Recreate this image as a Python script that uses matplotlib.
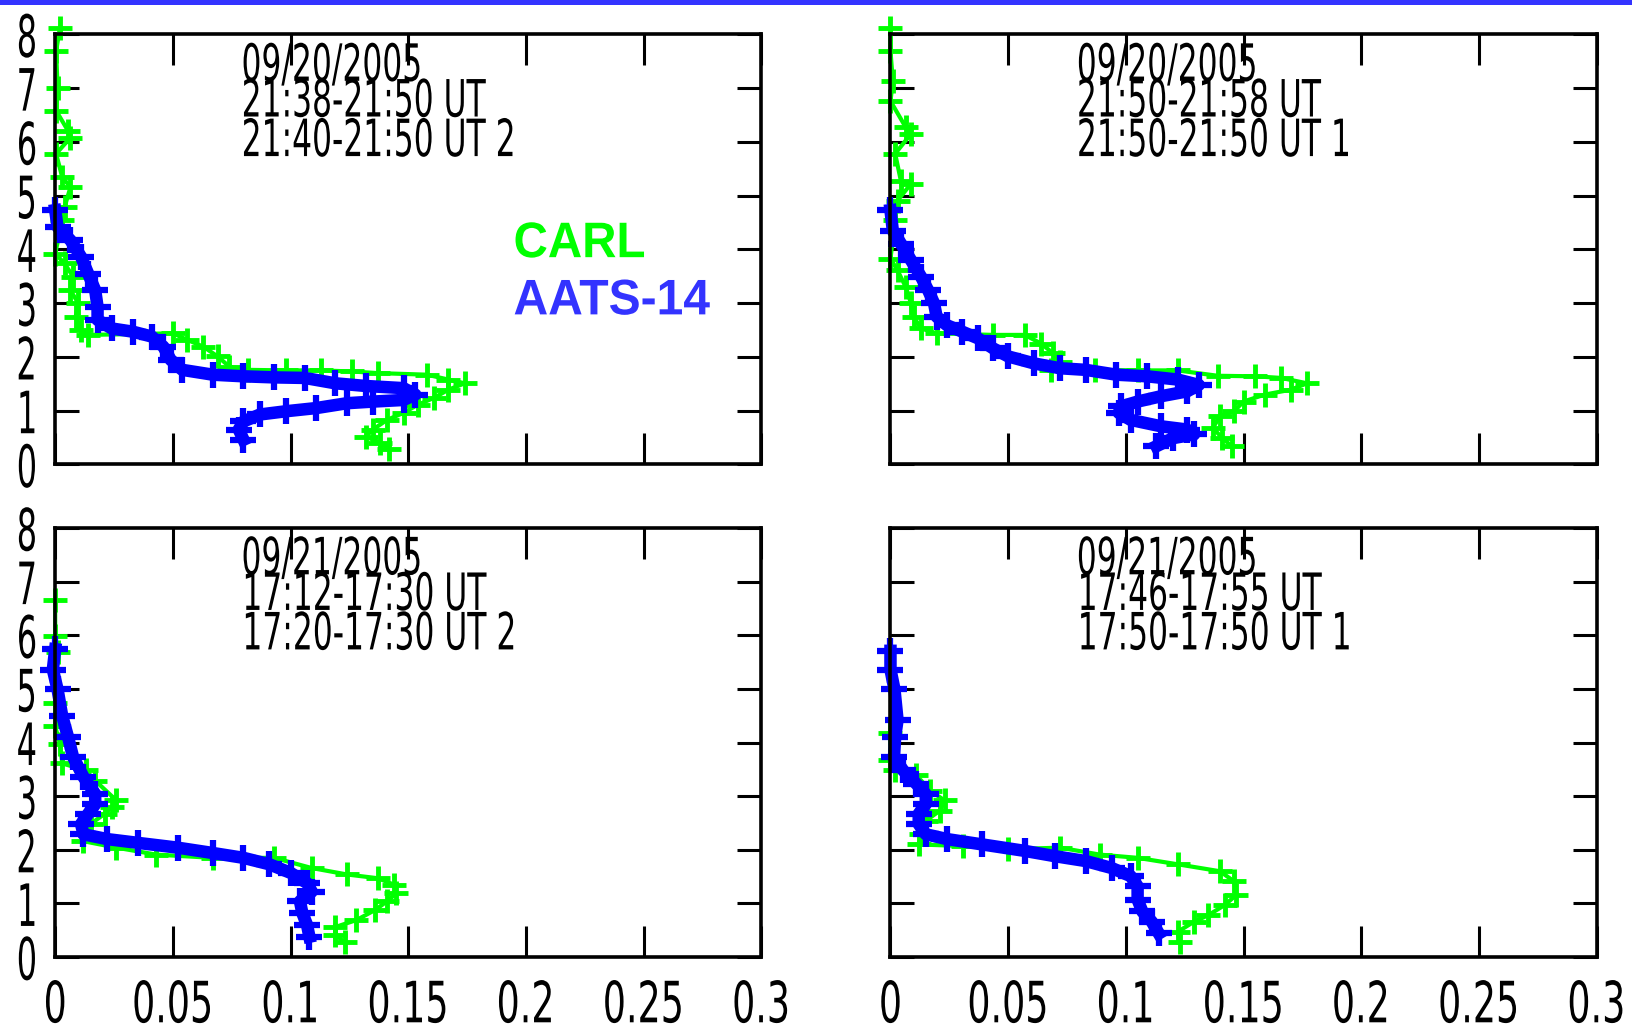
import numpy as np
import matplotlib
matplotlib.use('Agg')
import matplotlib.pyplot as plt
from matplotlib.patches import Rectangle
from matplotlib.patheffects import AbstractPathEffect
from matplotlib.transforms import Affine2D

plt.rcParams['font.family'] = ['DejaVu Sans']

GREEN = '#00ff00'
BLUE = '#0000ff'
TEXT_BLUE = '#3333ff'


class Narrow(AbstractPathEffect):
    """Squeeze glyphs horizontally to get a condensed-looking face."""

    def __init__(self, sx, anchor='center'):
        super().__init__()
        self.sx = sx
        self.anchor = anchor

    def draw_path(self, renderer, gc, tpath, affine, rgbFace=None):
        ext = tpath.get_extents()
        if self.anchor == 'left':
            cx = ext.x0
        elif self.anchor == 'right':
            cx = ext.x1
        else:
            cx = 0.5 * (ext.x0 + ext.x1)
        squeeze = Affine2D().translate(-cx, 0).scale(self.sx, 1).translate(cx, 0)
        renderer.draw_path(gc, tpath, squeeze + affine, rgbFace)


# extinction (1/km) vs altitude (km) for each overflight
# 09/20/2005, 21:38-21:50 UT
carl1_x = [0.002, 0.0004, 0.001, 0.0004, 0.0054, 0.0065, 0.0004, 0.003, 0.0065, 0.004,
           0.003, 0.000, 0.004, 0.0076, 0.0065, 0.0098, 0.0087, 0.011, 0.014, 0.050,
           0.056, 0.063, 0.069, 0.074, 0.082, 0.098, 0.113, 0.126, 0.137, 0.158,
           0.167, 0.174, 0.167, 0.161, 0.154, 0.148, 0.141, 0.135, 0.132, 0.138, 0.142]
carl1_y = [8.12, 7.69, 7.01, 6.58, 6.21, 6.08, 5.78, 5.34, 5.16, 4.79,
           4.54, 3.92, 3.74, 3.49, 3.24, 3.00, 2.75, 2.50, 2.41, 2.44,
           2.32, 2.19, 2.01, 1.82, 1.76, 1.75, 1.75, 1.73, 1.70, 1.67,
           1.58, 1.51, 1.39, 1.24, 1.11, 0.96, 0.83, 0.65, 0.52, 0.40, 0.28]
aats1_x = [0.000, 0.001, 0.0065, 0.011, 0.014, 0.017, 0.018, 0.018, 0.024, 0.033,
           0.041, 0.046, 0.049, 0.054, 0.067, 0.080, 0.093, 0.106, 0.119, 0.132,
           0.148, 0.153, 0.148, 0.135, 0.124, 0.111, 0.098, 0.087, 0.080, 0.078, 0.080]
aats1_y = [4.73, 4.42, 4.17, 3.86, 3.55, 3.24, 2.93, 2.69, 2.53, 2.47,
           2.38, 2.19, 1.95, 1.76, 1.67, 1.64, 1.62, 1.61, 1.51, 1.46,
           1.42, 1.30, 1.20, 1.17, 1.14, 1.05, 0.99, 0.93, 0.80, 0.65, 0.46]

# 09/20/2005, 21:50-21:58 UT
carl2_x = [0.000, 0.000, 0.001, 0.000, 0.0065, 0.0087, 0.002, 0.0044, 0.0087, 0.003,
           0.002, 0.000, 0.003, 0.0065, 0.0087, 0.0098, 0.013, 0.0196, 0.0436, 0.057,
           0.064, 0.069, 0.072, 0.068, 0.087, 0.105, 0.122, 0.139, 0.155, 0.166,
           0.177, 0.170, 0.159, 0.150, 0.146, 0.140, 0.137, 0.141, 0.145]
carl2_y = [8.12, 7.69, 7.13, 6.76, 6.27, 6.15, 5.78, 5.28, 5.22, 4.91,
           4.54, 3.83, 3.61, 3.30, 3.00, 2.75, 2.53, 2.44, 2.41, 2.41,
           2.25, 2.07, 1.91, 1.76, 1.76, 1.75, 1.75, 1.65, 1.64, 1.61,
           1.51, 1.39, 1.30, 1.17, 0.99, 0.90, 0.68, 0.49, 0.34]
aats2_x = [0.000, 0.001, 0.0044, 0.0087, 0.013, 0.016, 0.0185, 0.0196, 0.024, 0.0305,
           0.037, 0.0436, 0.050, 0.061, 0.072, 0.083, 0.096, 0.109, 0.122, 0.131,
           0.126, 0.115, 0.105, 0.098, 0.097, 0.102, 0.115, 0.126, 0.129, 0.120, 0.113]
aats2_y = [4.73, 4.35, 4.11, 3.80, 3.49, 3.24, 3.00, 2.75, 2.59, 2.47,
           2.35, 2.16, 2.01, 1.88, 1.79, 1.76, 1.67, 1.64, 1.58, 1.48,
           1.36, 1.27, 1.17, 1.08, 0.96, 0.83, 0.71, 0.65, 0.56, 0.49, 0.34]

# 09/21/2005, 17:12-17:30 UT
carl3_x = [0.000, 0.000, 0.001, 0.000, 0.000, 0.002, 0.003, 0.013, 0.017, 0.026,
           0.024, 0.021, 0.015, 0.012, 0.026, 0.043, 0.067, 0.093, 0.109, 0.124,
           0.137, 0.144, 0.145, 0.141, 0.136, 0.128, 0.119, 0.119, 0.123]
carl3_y = [6.65, 5.99, 5.68, 4.74, 4.30, 3.98, 3.61, 3.48, 3.29, 2.92,
           2.79, 2.67, 2.48, 2.16, 2.04, 1.91, 1.85, 1.85, 1.66, 1.54,
           1.47, 1.35, 1.19, 1.04, 0.88, 0.69, 0.56, 0.41, 0.28]
aats3_x = [0.000, -0.001, 0.001, 0.003, 0.0054, 0.0076, 0.012, 0.017, 0.017, 0.014,
           0.011, 0.012, 0.022, 0.035, 0.052, 0.067, 0.080, 0.091, 0.100, 0.107,
           0.109, 0.104, 0.105, 0.107, 0.108]
aats3_y = [5.74, 5.36, 4.99, 4.49, 4.11, 3.73, 3.36, 3.04, 2.85, 2.67,
           2.48, 2.29, 2.20, 2.13, 2.04, 1.94, 1.85, 1.73, 1.57, 1.38,
           1.22, 1.04, 0.82, 0.60, 0.38]

# 09/21/2005, 17:46-17:55 UT
carl4_x = [0.000, 0.000, 0.002, 0.011, 0.017, 0.023, 0.021, 0.015, 0.013, 0.012,
           0.031, 0.050, 0.072, 0.089, 0.105, 0.122, 0.140, 0.146, 0.147, 0.142,
           0.135, 0.129, 0.122, 0.123]
carl4_y = [4.17, 3.67, 3.48, 3.39, 3.10, 2.92, 2.73, 2.54, 2.29, 2.10,
           2.07, 2.01, 2.04, 1.91, 1.85, 1.73, 1.60, 1.41, 1.16, 0.97,
           0.78, 0.66, 0.47, 0.28]
aats4_x = [0.000, 0.000, 0.0017, 0.003, 0.002, 0.0015, 0.0054, 0.011, 0.015, 0.015,
           0.012, 0.012, 0.015, 0.024, 0.039, 0.057, 0.070, 0.083, 0.094, 0.102,
           0.105, 0.105, 0.107, 0.111, 0.114]
aats4_y = [5.71, 5.36, 4.99, 4.42, 4.11, 3.73, 3.48, 3.23, 3.04, 2.85,
           2.67, 2.48, 2.29, 2.20, 2.10, 1.98, 1.88, 1.79, 1.66, 1.51,
           1.32, 1.07, 0.85, 0.66, 0.44]

titles = [
    ['09/20/2005', '21:38-21:50 UT', '21:40-21:50 UT 2'],
    ['09/20/2005', '21:50-21:58 UT', '21:50-21:50 UT 1'],
    ['09/21/2005', '17:12-17:30 UT', '17:20-17:30 UT 2'],
    ['09/21/2005', '17:46-17:55 UT', '17:50-17:50 UT 1'],
]
carl = [(carl1_x, carl1_y), (carl2_x, carl2_y), (carl3_x, carl3_y), (carl4_x, carl4_y)]
aats = [(aats1_x, aats1_y), (aats2_x, aats2_y), (aats3_x, aats3_y), (aats4_x, aats4_y)]

x_ticks = [0, 0.05, 0.1, 0.15, 0.2, 0.25, 0.3]
x_labels = ['0', '0.05', '0.1', '0.15', '0.2', '0.25', '0.3']
y_ticks = [0, 1, 2, 3, 4, 5, 6, 7, 8]
title_y = [0.892, 0.809, 0.717]

fig = plt.figure(figsize=(16.33, 10.29), dpi=100)
positions = [(0.0338, 0.5486, 0.4324, 0.418), (0.5453, 0.5486, 0.4324, 0.418),
             (0.0338, 0.0699, 0.4324, 0.417), (0.5453, 0.0699, 0.4324, 0.417)]

for i, pos in enumerate(positions):
    ax = fig.add_axes(pos)
    cx, cy = carl[i]
    bx, by = aats[i]
    ax.plot(cx, cy, color=GREEN, lw=3, marker='+', ms=17, mew=3.5, clip_on=False)
    ax.plot(bx, by, color=BLUE, lw=9, marker='+', ms=19, mew=4.5, clip_on=False)

    ax.set_xlim(0, 0.3)
    ax.set_ylim(0, 8)
    ax.set_xticks(x_ticks)
    ax.set_yticks(y_ticks)
    ax.tick_params(direction='in', top=True, right=True, width=2.2, colors='black')
    ax.tick_params(axis='x', length=22, pad=16, labelsize=41)
    ax.tick_params(axis='y', length=17, pad=7, labelsize=42)
    for sp in ax.spines.values():
        sp.set_linewidth(2.6)

    if i >= 2:
        ax.set_xticklabels(x_labels)
    else:
        ax.set_xticklabels([])
    if i % 2 == 0:
        ax.set_yticklabels([str(v) for v in y_ticks])
    else:
        ax.set_yticklabels([])
    for lbl in ax.get_xticklabels():
        lbl.set_path_effects([Narrow(0.64)])
    for lbl in ax.get_yticklabels():
        lbl.set_path_effects([Narrow(0.55)])

    for k, line in enumerate(titles[i]):
        ax.text(0.262, title_y[k], line, transform=ax.transAxes,
                fontsize=37, color='black', path_effects=[Narrow(0.61, 'left')])

    if i == 0:
        ax.text(0.649, 0.482, 'CARL', transform=ax.transAxes, color=GREEN,
                fontsize=36, fontweight='bold', family=['Liberation Sans', 'DejaVu Sans'],
                path_effects=[Narrow(0.95, 'left')])
        ax.text(0.649, 0.349, 'AATS-14', transform=ax.transAxes, color=TEXT_BLUE,
                fontsize=36, fontweight='bold', family=['Liberation Sans', 'DejaVu Sans'],
                path_effects=[Narrow(0.96, 'left')])

# thin banner line along the top edge
fig.add_artist(Rectangle((0, 1 - 5 / 1029), 1, 5 / 1029, transform=fig.transFigure,
                         color=TEXT_BLUE, lw=0))

fig.savefig('out.png', dpi=100, facecolor='white')
